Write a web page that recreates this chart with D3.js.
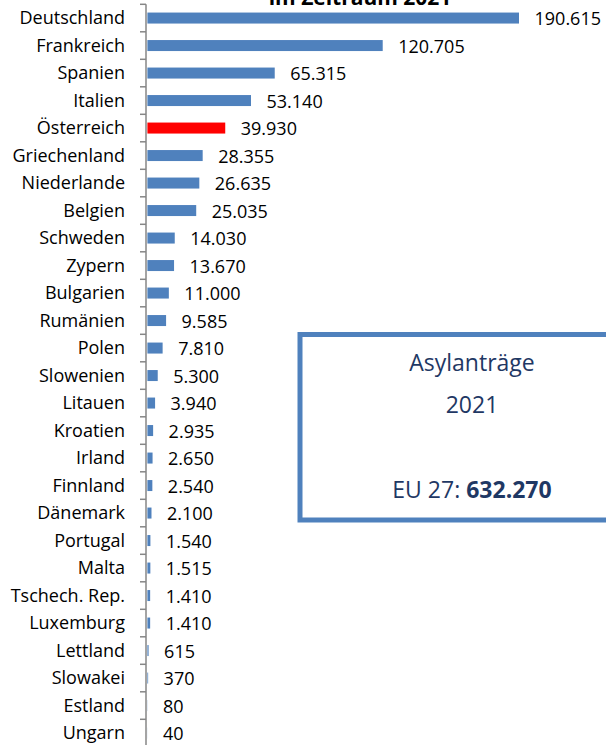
<!DOCTYPE html>
<html>
<head>
<meta charset="utf-8">
<script src="https://cdn.jsdelivr.net/npm/d3@7/dist/d3.min.js"></script>
<style>
html, body { margin: 0; padding: 0; background: #fff; overflow: hidden; }
svg { display: block; }
</style>
</head>
<body>
<script>
const categories = ["Deutschland","Frankreich","Spanien","Italien","Österreich","Griechenland","Niederlande","Belgien","Schweden","Zypern","Bulgarien","Rumänien","Polen","Slowenien","Litauen","Kroatien","Irland","Finnland","Dänemark","Portugal","Malta","Tschech. Rep.","Luxemburg","Lettland","Slowakei","Estland","Ungarn"];
const values = [190615,120705,65315,53140,39930,28355,26635,25035,14030,13670,11000,9585,7810,5300,3940,2935,2650,2540,2100,1540,1515,1410,1410,615,370,80,40];
const highlight = ["Österreich"];
const titleText = "im Zeitraum 2021";
const boxLines = ["Asylanträge", "2021"];
const boxTotalLabel = "EU 27: ";
const boxTotal = 632270;

const W = 606, H = 745;
const font = "'Open Sans', sans-serif";
const loc = d3.formatLocale({decimal: ",", thousands: ".", grouping: [3], currency: ["", "€"]});
const fmt = loc.format(",d");

const svg = d3.select("body").append("svg").attr("width", W).attr("height", H);

const x = d3.scaleLinear().domain([0, 190615]).range([147.4, 519]);
const pin = 0.6;
const y = d3.scaleBand().domain(categories).range([4.3, 746.8]).paddingInner(pin).paddingOuter(pin / 2);
const step = y.step();

// title (cut off at top)
svg.append("text").attr("x", 360).attr("y", 4.5).attr("text-anchor", "middle")
  .attr("font-family", font).attr("font-weight", "bold").attr("font-size", 21)
  .attr("fill", "#000").text(titleText);

// bars
svg.selectAll("rect.bar").data(categories).join("rect").attr("class", "bar")
  .attr("x", x(0))
  .attr("y", d => y(d))
  .attr("height", y.bandwidth())
  .attr("width", (d, i) => Math.max(0, x(values[i]) - x(0)))
  .attr("fill", d => highlight.includes(d) ? "#ff0000" : "#4f81bd");

// value labels
svg.selectAll("text.val").data(categories).join("text").attr("class", "val")
  .attr("x", (d, i) => x(values[i]) + 15.5)
  .attr("y", d => y(d) + y.bandwidth() / 2 + 7)
  .attr("font-family", font).attr("font-size", 18).attr("fill", "#000")
  .text((d, i) => fmt(values[i]));

// axis
const axisX = 146;
const g = svg.append("g").attr("transform", `translate(${axisX},0)`);
const ax = d3.axisLeft(y).tickSize(0).tickPadding(21);
g.call(ax);
g.select(".domain").remove();
g.selectAll(".tick text").attr("font-family", font).attr("font-size", 18).attr("fill", "#000")
  .attr("dy", null).attr("y", 6);
g.append("line").attr("x1", 0).attr("x2", 0).attr("y1", y.range()[0]).attr("y2", y.range()[1])
  .attr("stroke", "#868686").attr("stroke-width", 1.5);
const bounds = categories.map(c => y(c) - step * pin / 2).concat([y.range()[1]]);
g.selectAll("line.tk").data(bounds).join("line").attr("class", "tk")
  .attr("x1", -6).attr("x2", 0).attr("y1", d => d).attr("y2", d => d)
  .attr("stroke", "#868686").attr("stroke-width", 1.5);

// info box
svg.append("rect").attr("x", 300).attr("y", 334.5).attr("width", 330).attr("height", 185.5)
  .attr("fill", "#fff").attr("stroke", "#4f81bd").attr("stroke-width", 5);
const bx = 472;
const tcol = "#1f3864";
svg.append("text").attr("x", bx).attr("y", 371).attr("text-anchor", "middle")
  .attr("font-family", font).attr("font-size", 23).attr("fill", tcol).text(boxLines[0]);
svg.append("text").attr("x", bx).attr("y", 413).attr("text-anchor", "middle")
  .attr("font-family", font).attr("font-size", 23).attr("fill", tcol).text(boxLines[1]);
const t3 = svg.append("text").attr("x", bx).attr("y", 498).attr("text-anchor", "middle")
  .attr("font-family", font).attr("font-size", 23).attr("fill", tcol);
t3.append("tspan").text(boxTotalLabel);
t3.append("tspan").attr("font-weight", "bold").text(fmt(boxTotal));
</script>
</body>
</html>
